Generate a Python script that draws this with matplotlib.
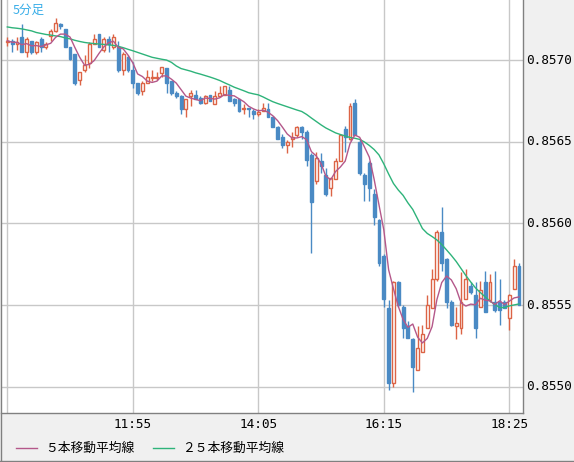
import matplotlib
matplotlib.use("Agg")
import matplotlib.pyplot as plt
from matplotlib.lines import Line2D
import numpy as np
import pandas as pd
from datetime import datetime, timedelta

# ---- data (5-minute candles) ----
start_time = "09:45"
bar_minutes = 5

opens = [0.85711,0.85712,0.85710,0.85714,0.85705,0.85712,0.85705,0.85713,0.85708,0.85715,
         0.85718,0.85722,0.85719,0.85708,0.85704,0.85688,0.85694,0.85698,0.85710,0.85716,
         0.85706,0.85713,0.85708,0.85708,0.85694,0.85702,0.85694,0.85686,0.85681,0.85686,
         0.85689,0.85689,0.85692,0.85695,0.85687,0.85680,0.85678,0.85670,0.85678,0.85679,
         0.85677,0.85674,0.85679,0.85673,0.85678,0.85679,0.85682,0.85676,0.85676,0.85670,
         0.85671,0.85669,0.85667,0.85669,0.85670,0.85665,0.85659,0.85653,0.85648,0.85652,
         0.85654,0.85659,0.85656,0.85642,0.85626,0.85638,0.85630,0.85622,0.85627,0.85638,
         0.85658,0.85652,0.85674,0.85650,0.85630,0.85637,0.85618,0.85602,0.85580,0.85548,
         0.85502,0.85564,0.85549,0.85537,0.85529,0.85510,0.85521,0.85536,0.85548,0.85566,
         0.85595,0.85578,0.85552,0.85537,0.85536,0.85554,0.85562,0.85556,0.85549,0.85564,
         0.85553,0.85552,0.85552,0.85552,0.85542,0.85560,0.85574]
highs = [0.85714,0.85713,0.85714,0.85722,0.85714,0.85712,0.85712,0.85714,0.85711,0.85719,
         0.85726,0.85723,0.85719,0.85708,0.85704,0.85693,0.85703,0.85711,0.85716,0.85716,
         0.85714,0.85715,0.85716,0.85712,0.85705,0.85703,0.85699,0.85686,0.85687,0.85694,
         0.85694,0.85693,0.85696,0.85695,0.85687,0.85681,0.85679,0.85676,0.85682,0.85682,
         0.85678,0.85679,0.85679,0.85681,0.85684,0.85684,0.85684,0.85677,0.85676,0.85673,
         0.85671,0.85670,0.85670,0.85674,0.85674,0.85666,0.85660,0.85655,0.85651,0.85656,
         0.85660,0.85660,0.85657,0.85643,0.85644,0.85643,0.85634,0.85628,0.85640,0.85655,
         0.85660,0.85674,0.85676,0.85652,0.85631,0.85638,0.85621,0.85603,0.85581,0.85553,
         0.85565,0.85565,0.85550,0.85540,0.85530,0.85537,0.85538,0.85556,0.85572,0.85596,
         0.85610,0.85579,0.85553,0.85549,0.85570,0.85572,0.85564,0.85564,0.85565,0.85571,
         0.85569,0.85571,0.85566,0.85553,0.85557,0.85578,0.85576]
lows = [0.85709,0.85705,0.85706,0.85705,0.85702,0.85704,0.85704,0.85705,0.85707,0.85712,
        0.85717,0.85719,0.85708,0.85700,0.85685,0.85685,0.85693,0.85695,0.85710,0.85708,
        0.85705,0.85705,0.85707,0.85693,0.85691,0.85693,0.85683,0.85679,0.85679,0.85686,
        0.85687,0.85688,0.85690,0.85680,0.85679,0.85677,0.85667,0.85665,0.85672,0.85676,
        0.85673,0.85673,0.85675,0.85673,0.85678,0.85679,0.85675,0.85672,0.85668,0.85667,
        0.85665,0.85664,0.85666,0.85669,0.85665,0.85659,0.85652,0.85646,0.85643,0.85647,
        0.85653,0.85652,0.85635,0.85582,0.85624,0.85631,0.85617,0.85617,0.85627,0.85638,
        0.85644,0.85651,0.85654,0.85630,0.85614,0.85614,0.85599,0.85574,0.85549,0.85498,
        0.85500,0.85549,0.85530,0.85530,0.85497,0.85510,0.85521,0.85536,0.85548,0.85565,
        0.85571,0.85548,0.85537,0.85529,0.85532,0.85554,0.85557,0.85530,0.85549,0.85546,
        0.85552,0.85546,0.85538,0.85548,0.85535,0.85560,0.85550]
closes = [0.85712,0.85710,0.85711,0.85705,0.85713,0.85705,0.85711,0.85708,0.85710,0.85718,
          0.85723,0.85721,0.85708,0.85701,0.85686,0.85693,0.85697,0.85710,0.85713,0.85708,
          0.85713,0.85710,0.85714,0.85694,0.85704,0.85694,0.85686,0.85680,0.85686,0.85690,
          0.85690,0.85690,0.85696,0.85686,0.85680,0.85678,0.85670,0.85676,0.85680,0.85676,
          0.85674,0.85678,0.85675,0.85678,0.85680,0.85684,0.85675,0.85674,0.85669,0.85671,
          0.85670,0.85667,0.85668,0.85671,0.85665,0.85659,0.85652,0.85648,0.85650,0.85653,
          0.85659,0.85656,0.85639,0.85613,0.85640,0.85635,0.85618,0.85628,0.85638,0.85654,
          0.85653,0.85672,0.85654,0.85631,0.85624,0.85622,0.85604,0.85576,0.85554,0.85502,
          0.85564,0.85550,0.85536,0.85530,0.85512,0.85524,0.85532,0.85550,0.85566,0.85595,
          0.85576,0.85552,0.85538,0.85539,0.85552,0.85566,0.85558,0.85536,0.85559,0.85546,
          0.85564,0.85547,0.85547,0.85548,0.85556,0.85574,0.85550]
# 25-bar moving average as drawn on the chart
ma25 = [0.857204,0.857199,0.857196,0.857192,0.857186,0.857180,0.857170,0.857164,0.857158,0.857154,
        0.857149,0.857145,0.857137,0.857131,0.857122,0.857115,0.857109,0.857105,0.857102,0.857099,
        0.857097,0.857094,0.857091,0.857085,0.857077,0.857067,0.857058,0.857048,0.857038,0.857028,
        0.857018,0.857012,0.857006,0.857001,0.856987,0.856965,0.856949,0.856941,0.856933,0.856923,
        0.856915,0.856906,0.856897,0.856887,0.856876,0.856862,0.856849,0.856835,0.856824,0.856813,
        0.856801,0.856794,0.856788,0.856775,0.856760,0.856746,0.856735,0.856725,0.856715,0.856705,
        0.856695,0.856686,0.856668,0.856646,0.856625,0.856604,0.856585,0.856570,0.856555,0.856545,
        0.856536,0.856527,0.856522,0.856515,0.856499,0.856478,0.856453,0.856420,0.856365,0.856303,
        0.856245,0.856205,0.856172,0.856126,0.856086,0.856028,0.855969,0.855939,0.855920,0.855899,
        0.855871,0.855838,0.855804,0.855767,0.855724,0.855681,0.855642,0.855605,0.855577,0.855550,
        0.855525,0.855504,0.855485,0.855485,0.855495,0.855501,0.855507]

price_ticks = [0.8550, 0.8555, 0.8560, 0.8565, 0.8570]
time_labels = ["11:55", "14:05", "16:15", "18:25"]
title_text = "5分足"
legend_labels = ["５本移動平均線", "２５本移動平均線"]

# ---- derived ----
n = len(closes)
x = np.arange(n)
t0 = datetime.strptime(start_time, "%H:%M")
times = [(t0 + timedelta(minutes=bar_minutes * i)).strftime("%H:%M") for i in range(n)]
ma5 = pd.Series(closes).rolling(5, min_periods=1).mean().values

W, H = 574, 462
fig = plt.figure(figsize=(W / 100, H / 100), dpi=100)
fig.patch.set_facecolor("#f0f0f0")

ax_l, ax_r, ax_b, ax_t = 1, 523, 412.5, 0
ax = fig.add_axes([ax_l / W, (H - ax_b) / H, (ax_r - ax_l) / W, (ax_b - ax_t) / H])
ax.set_facecolor("white")

px_per_bar = 4.827
x0_px = 7.3
ax.set_xlim((ax_l - x0_px) / px_per_bar, (ax_r - x0_px) / px_per_bar)
ax.set_ylim(0.854842, 0.857369)

grid_c = "#c8c8c8"
grid_idx = [i for i, t in enumerate(times) if t in (["09:45"] + time_labels)]
for gi in grid_idx:
    ax.axvline(gi, color=grid_c, lw=1.0, zorder=0)
for p in price_ticks:
    ax.axhline(p, color=grid_c, lw=1.0, zorder=0)

red = "#dc6446"
blue = "#4a8ac4"
o = np.array(opens); h = np.array(highs); l = np.array(lows); c = np.array(closes)
up = c >= o
body_w = 0.6
min_h = 0.0000055
for i in range(n):
    col = red if up[i] else blue
    ax.vlines(x[i], l[i], h[i], color=col, lw=1.0, zorder=2)
    bot = min(o[i], c[i])
    hh = max(abs(c[i] - o[i]), min_h)
    if up[i]:
        ax.bar(x[i], hh, bottom=bot, width=body_w, facecolor="white",
               edgecolor=red, linewidth=1.0, zorder=3)
    else:
        ax.bar(x[i], hh, bottom=bot, width=body_w, facecolor=blue,
               edgecolor=blue, linewidth=1.0, zorder=3)

ma5_c = "#b4588a"
ma25_c = "#2eb37a"
ax.plot(x, ma25, color=ma25_c, lw=1.0, zorder=4)
ax.plot(x, ma5, color=ma5_c, lw=1.0, zorder=4)

ax.set_xticks([]); ax.set_yticks([])
for s in ["left", "top"]:
    ax.spines[s].set_visible(False)
for s in ["right", "bottom"]:
    ax.spines[s].set_color("#808080")
    ax.spines[s].set_linewidth(1.0)

# price labels on the right panel
for p in price_ticks:
    yfig = ax.transData.transform((0, p))[1] / H
    fig.text(526 / W, yfig, f"{p:.4f}", ha="left", va="center",
             fontsize=9.2, family="DejaVu Sans Mono", color="#000000")

# time labels below
for lab in time_labels:
    i = times.index(lab)
    xfig = ax.transData.transform((i, 0))[0] / W
    fig.text(xfig, 1 - 425 / H, lab, ha="center", va="center",
             fontsize=9.2, family="DejaVu Sans Mono", color="#000000")

# title
fig.text(13 / W, 1 - 10 / H, title_text, ha="left", va="center", fontsize=9,
         family=["Noto Sans CJK JP", "DejaVu Sans"], color="#3aaee8")

# legend
leg_y = 1 - 448 / H
for (x1, x2, tx), lab, col in zip([(16, 37, 45), (153, 174, 182)], legend_labels, [ma5_c, ma25_c]):
    fig.add_artist(Line2D([x1 / W, x2 / W], [leg_y, leg_y], color=col, lw=1.0))
    fig.text(tx / W, leg_y, lab, ha="left", va="center", fontsize=9.2,
             family=["Noto Sans CJK JP", "DejaVu Sans"], color="#000000")

# outer frame
fig.add_artist(Line2D([0.5 / W, 0.5 / W], [0, 1], color="#808080", lw=1.0))
fig.add_artist(Line2D([0, 1], [1.2 / H, 1.2 / H], color="#808080", lw=1.0))

fig.savefig("out.png", dpi=100, facecolor=fig.get_facecolor())
